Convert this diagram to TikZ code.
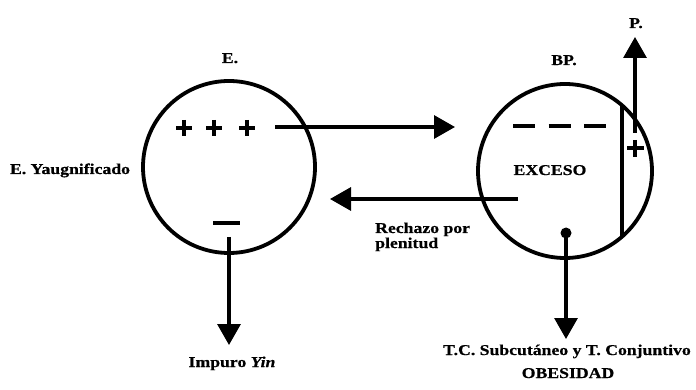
\documentclass[tikz,border=0pt]{standalone}
\usepackage{fontspec}
\setmainfont{Liberation Serif}[FakeStretch=1.18, BoldFeatures={FakeBold=0.6}, BoldItalicFeatures={FakeBold=0.6}]
\usetikzlibrary{arrows.meta}
\tikzset{
  lbl/.style={font=\bfseries\fontsize{15}{16}\selectfont, inner sep=0pt, anchor=base},
  ring/.style={draw, line width=3.8pt, circle, inner sep=0pt},
  conn/.style={line width=3.2pt, -{Triangle[length=21pt,width=23pt]}},
  signline/.style={line width=4.6pt},
}
\begin{document}
\begin{tikzpicture}[x=1pt,y=-1pt]
\useasboundingbox (0,0) rectangle (696,390);
% circles
\node[ring, minimum size=172pt] (E) at (229,167) {};
\node[ring, minimum size=174pt] (BP) at (565,171) {};
% labels
\node[lbl] (tE) at (230,63) {E.};
\node[lbl] (tBP) at (564,65) {BP.};
\node[lbl] (tP) at (636,28) {P.};
\node[lbl] (tYang) at (70,174) {E. Yaugnificado};
\node[lbl] (tEx) at (550,175) {EXCESO};
\node[lbl, anchor=base west] (tR1) at (375,233) {Rechazo por};
\node[lbl, anchor=base west] (tR2) at (375,248) {plenitud};
\node[lbl] (tYin) at (232,367) {Impuro \textit{Yin}};
\node[lbl] (tTC) at (567,355) {T.C. Subcutáneo y T. Conjuntivo};
\node[lbl] (tOb) at (568,378) {OBESIDAD};
% plus signs in E
\foreach \px in {184,214,247}{
  \draw[signline] (\px-8,128) -- (\px+8,128);
  \draw[signline] (\px,120) -- (\px,136);
}
% minus in E
\draw[signline] (213,223) -- (240,223);
% dashes in BP
\draw[line width=4.6pt, dash pattern=on 22pt off 13.5pt] (513,126) -- (606,126);
% chord in BP
\draw[line width=3.5pt] (622,105) -- (622,237);
% plus in BP
\draw[signline] (627,148) -- (644,148);
\draw[signline] (635,140) -- (635,157);
% connectors
\coordinate (a1) at (275,127);
\coordinate (a2) at (455,127);
\draw[conn] (a1) -- (a2);
\coordinate (b1) at (518,199);
\coordinate (b2) at (330,199);
\draw[conn] (b1) -- (b2);
\coordinate (c1) at (229,237);
\coordinate (c2) at (229,345);
\draw[conn] (c1) -- (c2);
\coordinate (d1) at (566,233);
\coordinate (d2) at (566,339);
\fill (d1) circle (5.5pt);
\draw[conn] (d1) -- (d2);
\coordinate (p1) at (635,133);
\coordinate (p2) at (635,37);
\draw[conn] (p1) -- (p2);
\end{tikzpicture}
\end{document}
